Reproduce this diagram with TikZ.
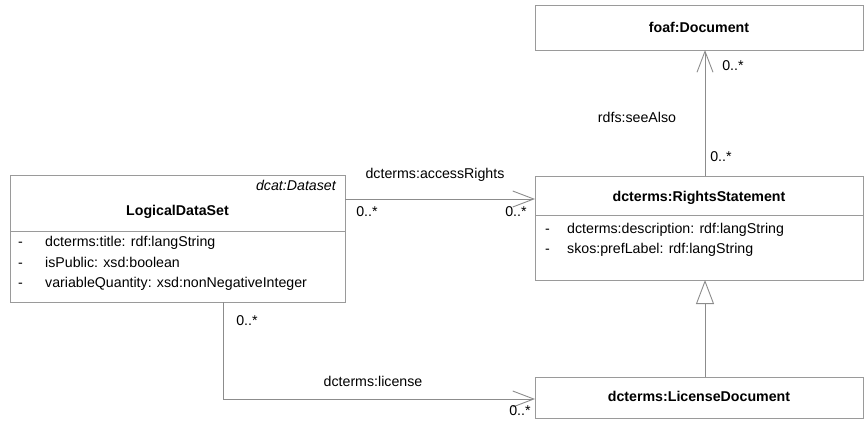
\documentclass[tikz,border=0pt]{standalone}
\usepackage{fontspec}
\setmainfont{Liberation Sans}
\usetikzlibrary{arrows.meta,calc}
\definecolor{umlline}{HTML}{8C8C8C}
\definecolor{umlbox}{HTML}{9A9A9A}
\tikzset{
  classbox/.style={draw=umlbox, line width=0.9pt, fill=white, anchor=north west, inner sep=0pt, outer sep=0pt},
  txt/.style={font=\fontsize{14.2}{16}\selectfont, inner sep=0pt, text=black, text height=10.2pt, text depth=3pt},
  ttl/.style={txt, font=\fontsize{14.2}{16}\selectfont\bfseries},
  attr/.style={txt, anchor=west},
  assoc/.style={draw=umlline, line width=0.9pt, -{Straight Barb[length=21pt,width=16pt,line width=0.9pt]}},
  general/.style={draw=umlline, line width=0.9pt, -{Triangle[open,length=24pt,width=18pt,line width=0.9pt,fill=white]}},
  divider/.style={draw=umlbox, line width=0.9pt}
}
\begin{document}
\begin{tikzpicture}[x=1pt,y=-1pt]
\useasboundingbox (0,0) rectangle (864,421);

% classes
\node[classbox, minimum width=335pt, minimum height=127pt] (lds) at (10,175) {};
\node[classbox, minimum width=328pt, minimum height=45pt] (foaf) at (535,5) {};
\node[classbox, minimum width=328pt, minimum height=104pt] (rs) at (535,176) {};
\node[classbox, minimum width=328pt, minimum height=41pt] (lic) at (535,377) {};

% LogicalDataSet compartments
\draw[divider] (10,231) -- (345,231);
\node[txt, anchor=east, font=\fontsize{14.2}{16}\selectfont\itshape] (ldsst) at (336,187) {dcat:Dataset};
\node[ttl] (ldst) at (177.5,212) {LogicalDataSet};
\node[attr] (ld1) at (18,243) {-};
\node[attr] (la1) at (45,243) {dcterms:title: rdf:langString};
\node[attr] (ld2) at (18,263.5) {-};
\node[attr] (la2) at (45,263.5) {isPublic: xsd:boolean};
\node[attr] (ld3) at (18,284) {-};
\node[attr] (la3) at (45,284) {variableQuantity: xsd:nonNegativeInteger};

% foaf:Document
\node[ttl] (foaft) at (699,29) {foaf:Document};

% RightsStatement
\draw[divider] (535,215) -- (863,215);
\node[ttl] (rst) at (699,198) {dcterms:RightsStatement};
\node[attr] (rd1) at (545,230) {-};
\node[attr] (ra1) at (567,230) {dcterms:description: rdf:langString};
\node[attr] (rd2) at (545,250) {-};
\node[attr] (ra2) at (567,250) {skos:prefLabel: rdf:langString};

% LicenseDocument
\node[ttl] (lict) at (699,398) {dcterms:LicenseDocument};

% connectors
\coordinate (ar1) at (345,199);
\coordinate (ar2) at (535,199);
\draw[assoc] (ar1) -- (ar2);
\node[txt] (arl) at (435,175) {dcterms:accessRights};
\node[txt] (arm1) at (367,213) {0..*};
\node[txt] (arm2) at (516,213) {0..*};

\coordinate (sa1) at (705,176);
\coordinate (sa2) at (705,50);
\draw[assoc] (sa1) -- (sa2);
\node[txt] (sal) at (637,119) {rdfs:seeAlso};
\node[txt] (sam1) at (733,67) {0..*};
\node[txt] (sam2) at (721,158) {0..*};

\coordinate (ge1) at (705,377);
\coordinate (ge2) at (705,280);
\draw[general] (ge1) -- (ge2);

\coordinate (li1) at (223,302);
\coordinate (li2) at (223,399);
\coordinate (li3) at (535,399);
\draw[assoc] (li1) -- (li2) -- (li3);
\node[txt] (lil) at (373,383) {dcterms:license};
\node[txt] (lim1) at (247,322) {0..*};
\node[txt] (lim2) at (520,412) {0..*};
\end{tikzpicture}
\end{document}
